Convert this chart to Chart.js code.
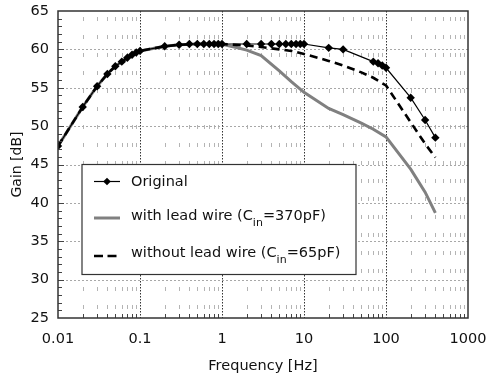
<!DOCTYPE html>
<html>
<head>
<meta charset="utf-8">
<script src="https://cdn.jsdelivr.net/npm/chart.js@4.4.0/dist/chart.umd.min.js"></script>
<style>
  html, body { margin: 0; padding: 0; background: #fff; }
  #wrap { width: 487px; height: 375px; }
</style>
</head>
<body>
<div id="wrap"><canvas id="gain-chart" width="487" height="375"></canvas></div>
<script>
// values
const origFreq = [0.01, 0.02, 0.03, 0.04, 0.05, 0.06, 0.07, 0.08, 0.09, 0.1,
  0.2, 0.3, 0.4, 0.5, 0.6, 0.7, 0.8, 0.9, 1,
  2, 3, 4, 5, 6, 7, 8, 9, 10, 20, 30, 70, 80, 90, 100, 200, 300, 400];
const origGain = [47.4, 52.5, 55.2, 56.8, 57.8, 58.4, 58.9, 59.3, 59.6, 59.8,
  60.4, 60.6, 60.7, 60.7, 60.7, 60.7, 60.7, 60.7, 60.7,
  60.7, 60.7, 60.7, 60.7, 60.7, 60.7, 60.7, 60.7, 60.7, 60.2, 60.0, 58.4, 58.2, 57.9, 57.6, 53.7, 50.8, 48.5];

const leadFreq = [0.01, 0.02, 0.03, 0.04, 0.05, 0.06, 0.07, 0.08, 0.09, 0.1,
  0.2, 0.3, 0.5, 0.7, 1, 1.5, 2, 3, 5, 7, 10, 20, 30, 50, 70, 100, 200, 300, 400];
const leadGain = [47.4, 52.5, 55.2, 56.8, 57.8, 58.4, 58.9, 59.3, 59.6, 59.8,
  60.4, 60.6, 60.7, 60.7, 60.65, 60.25, 59.9, 59.2, 57.2, 55.8, 54.4, 52.3, 51.5, 50.4, 49.6, 48.6, 44.4, 41.4, 38.7];

const noLeadFreq = [0.01, 0.02, 0.03, 0.04, 0.05, 0.06, 0.07, 0.08, 0.09, 0.1,
  0.2, 0.3, 0.5, 0.7, 1, 2, 3, 5, 7, 10, 20, 30, 50, 70, 100, 200, 300, 400];
const noLeadGain = [47.4, 52.5, 55.2, 56.8, 57.8, 58.4, 58.9, 59.3, 59.6, 59.8,
  60.4, 60.6, 60.7, 60.7, 60.7, 60.5, 60.3, 60.0, 59.8, 59.4, 58.5, 57.9, 57.0, 56.3, 55.3, 50.5, 47.7, 45.9];

const xTickValues = [0.01, 0.1, 1, 10, 100, 1000];
const xTickLabels = ["0.01", "0.1", "1", "10", "100", "1000"];
const yTickValues = [25, 30, 35, 40, 45, 50, 55, 60, 65];

// legend text, [text, isSubscript]
const legendParts = [
  [["Original", false]],
  [["with lead wire (C", false], ["in", true], ["=370pF)", false]],
  [["without lead wire (C", false], ["in", true], ["=65pF)", false]],
];

const FONT = "'DejaVu Sans', sans-serif";
const TEXT = "#111";
const GRAY = "#808080";

const toPts = (xs, ys) => xs.map((f, i) => ({ x: f, y: ys[i] }));

function diamond(ctx, x, y, r) {
  ctx.beginPath();
  ctx.moveTo(x, y - r);
  ctx.lineTo(x + r, y);
  ctx.lineTo(x, y + r);
  ctx.lineTo(x - r, y);
  ctx.closePath();
  ctx.fill();
}

// drop the extra room chart.js reserves for overhanging labels
function noPad(s) {
  s.paddingTop = 0;
  s.paddingBottom = 0;
  s.paddingLeft = 0;
  s.paddingRight = 0;
}

const paperGrid = {
  id: "paperGrid",
  beforeDatasetsDraw(chart) {
    const { ctx, chartArea: a, scales: { x, y } } = chart;
    ctx.save();
    ctx.lineWidth = 1;
    // minor verticals
    ctx.strokeStyle = "#b4b4b4";
    ctx.setLineDash([4, 14]);
    ctx.lineDashOffset = -6;
    for (let d of xTickValues.slice(0, -1)) {
      for (let k = 2; k <= 9; k++) {
        let px = Math.round(x.getPixelForValue(d * k)) + 0.5;
        ctx.beginPath(); ctx.moveTo(px, a.top); ctx.lineTo(px, a.bottom); ctx.stroke();
      }
    }
    // horizontal majors
    ctx.strokeStyle = "#a8a8a8";
    ctx.setLineDash([2, 2]);
    ctx.lineDashOffset = 0;
    for (let v of yTickValues.slice(1, -1)) {
      let py = Math.round(y.getPixelForValue(v)) + 0.5;
      ctx.beginPath(); ctx.moveTo(a.left, py); ctx.lineTo(a.right, py); ctx.stroke();
    }
    // decade verticals
    ctx.strokeStyle = "#333";
    ctx.setLineDash([1.5, 1.5]);
    for (let v of xTickValues.slice(1, -1)) {
      let px = Math.round(x.getPixelForValue(v)) + 0.5;
      ctx.beginPath(); ctx.moveTo(px, a.top); ctx.lineTo(px, a.bottom); ctx.stroke();
    }
    ctx.restore();
  },
  afterDatasetsDraw(chart) {
    const { ctx, chartArea: a, scales: { x, y } } = chart;
    ctx.save();
    ctx.strokeStyle = "#444";
    ctx.lineWidth = 1;
    // inner ticks, left axis
    for (let v = 26; v < 65; v++) {
      let py = Math.round(y.getPixelForValue(v)) + 0.5;
      let len = v % 5 === 0 ? 6 : 4;
      ctx.beginPath(); ctx.moveTo(a.left, py); ctx.lineTo(a.left + len, py); ctx.stroke();
    }
    // inner ticks, bottom axis
    for (let d of xTickValues.slice(0, -1)) {
      for (let k = 2; k <= 9; k++) {
        let px = Math.round(x.getPixelForValue(d * k)) + 0.5;
        ctx.beginPath(); ctx.moveTo(px, a.bottom); ctx.lineTo(px, a.bottom - 4); ctx.stroke();
      }
    }
    // frame
    ctx.strokeStyle = "#333";
    ctx.lineWidth = 1.5;
    ctx.strokeRect(a.left, a.top, a.right - a.left, a.bottom - a.top);
    ctx.restore();
  },
  afterDraw(chart) {
    const ctx = chart.ctx;
    ctx.save();
    // legend box
    ctx.fillStyle = "#fff";
    ctx.fillRect(82, 164, 274, 110);
    ctx.strokeStyle = "#333";
    ctx.lineWidth = 1.2;
    ctx.strokeRect(82, 164.5, 274, 110);

    const lineY = [181.5, 218, 256];
    const baseY = [186, 220, 257];
    // samples
    ctx.strokeStyle = "#000";
    ctx.lineWidth = 1.2;
    ctx.beginPath(); ctx.moveTo(94, lineY[0]); ctx.lineTo(120, lineY[0]); ctx.stroke();
    ctx.fillStyle = "#000";
    diamond(ctx, 107, lineY[0], 3.8);

    ctx.strokeStyle = GRAY;
    ctx.lineWidth = 3;
    ctx.beginPath(); ctx.moveTo(94, lineY[1]); ctx.lineTo(120, lineY[1]); ctx.stroke();

    ctx.strokeStyle = "#000";
    ctx.lineWidth = 2.5;
    ctx.setLineDash([9, 4.5]);
    ctx.beginPath(); ctx.moveTo(94, lineY[2]); ctx.lineTo(117, lineY[2]); ctx.stroke();
    ctx.setLineDash([]);

    // texts
    ctx.fillStyle = TEXT;
    ctx.textBaseline = "alphabetic";
    ctx.textAlign = "left";
    legendParts.forEach((parts, i) => {
      let tx = 131;
      for (let [txt, sub] of parts) {
        ctx.font = (sub ? "11px " : "14.5px ") + FONT;
        ctx.fillText(txt, tx, baseY[i] + (sub ? 6 : 0));
        tx += ctx.measureText(txt).width;
      }
    });
    ctx.restore();
  },
};

new Chart(document.getElementById("gain-chart"), {
  type: "line",
  data: {
    datasets: [
      {
        label: "Original",
        data: toPts(origFreq, origGain),
        borderColor: "#000",
        borderWidth: 1.2,
        pointStyle: "rectRot",
        pointRadius: 4.2,
        pointBackgroundColor: "#000",
        pointBorderColor: "#000",
        pointBorderWidth: 0,
      },
      {
        label: "without lead wire (Cin=65pF)",
        data: toPts(noLeadFreq, noLeadGain),
        borderColor: "#000",
        borderWidth: 2.6,
        borderDash: [8, 5],
        pointRadius: 0,
      },
      {
        label: "with lead wire (Cin=370pF)",
        data: toPts(leadFreq, leadGain),
        borderColor: GRAY,
        borderWidth: 3,
        pointRadius: 0,
      },
    ],
  },
  options: {
    responsive: false,
    animation: false,
    layout: { padding: { left: 0, right: 19, top: 11, bottom: 0 } },
    plugins: { legend: { display: false }, tooltip: { enabled: false } },
    scales: {
      x: {
        type: "logarithmic",
        min: 0.01,
        max: 1000,
        afterBuildTicks: (s) => { s.ticks = xTickValues.map((v) => ({ value: v })); },
        afterFit: (s) => { s.height = 57; noPad(s); },
        ticks: {
          autoSkip: false,
          maxRotation: 0,
          padding: 13,
          color: TEXT,
          font: { family: FONT, size: 14.5 },
          callback: (v) => {
            let i = xTickValues.indexOf(v);
            return i >= 0 ? xTickLabels[i] : "";
          },
        },
        grid: { display: false, drawTicks: false },
        border: { display: false },
        title: {
          display: true,
          text: "Frequency [Hz]",
          color: TEXT,
          font: { family: FONT, size: 14.5 },
          padding: { top: 5, bottom: 0 },
        },
      },
      y: {
        type: "linear",
        min: 25,
        max: 65,
        afterBuildTicks: (s) => { s.ticks = yTickValues.map((v) => ({ value: v })); },
        afterFit: (s) => { s.width = 58; noPad(s); },
        ticks: {
          padding: 9,
          color: TEXT,
          font: { family: FONT, size: 14.5 },
        },
        grid: { display: false, drawTicks: false },
        border: { display: false },
        title: {
          display: true,
          text: "Gain [dB]",
          color: TEXT,
          font: { family: FONT, size: 14 },
          padding: { top: 9, bottom: 0 },
        },
      },
    },
  },
  plugins: [paperGrid],
});
</script>
</body>
</html>
